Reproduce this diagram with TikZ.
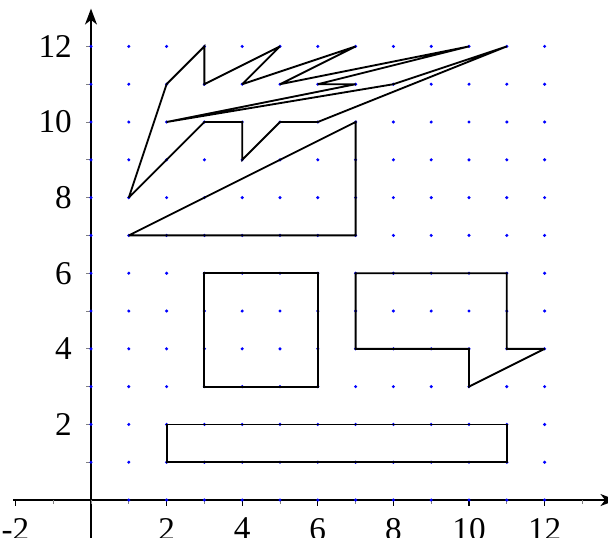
\documentclass[tikz,border=0pt]{standalone}
\usepackage{fontspec}
\setmainfont{Liberation Serif}
\usetikzlibrary{arrows.meta}
\begin{document}
\begin{tikzpicture}[x=1cm,y=1cm,
  figline/.style={line width=1.4pt, line join=miter, miter limit=3},
  axisline/.style={line width=1.3pt, -{Stealth[length=12pt,width=9pt,inset=3.5pt]}},
  gridpt/.style={fill=blue},
  minortick/.style={gray, line width=0.6pt},
  majortick/.style={black, line width=0.8pt},
  lbl/.style={font=\fontsize{25}{29}\selectfont, inner sep=0pt}]
\useasboundingbox (-2.407,-1.085) rectangle (13.677,13.228);
\clip (-2.407,-0.98) rectangle (13.677,13.228);
% axes
\coordinate (xs) at (-2.06,0);
\coordinate (xe) at (13.9,0);
\coordinate (ys) at (0,-1.2);
\coordinate (ye) at (0,13.0);
\draw[axisline] (xs) -- (xe);
\draw[axisline] (ys) -- (ye);
% ticks
\foreach \i in {-2,...,13} {\draw[minortick] (\i,0) -- (\i,-0.1);}
\foreach \i in {-2,2,4,...,12} {\draw[majortick] (\i,0) -- (\i,-0.15);}
\foreach \j in {1,...,12} {\draw[minortick] (0,\j) -- (-0.12,\j);}
% labels
\foreach \i in {-2,2,4,...,12} {\node[lbl, anchor=north] (xl\i) at (\i,-0.47) {\i};}
\foreach \j in {2,4,...,12} {\node[lbl, anchor=east] (yl\j) at (-0.5,\j) {\j};}
% grid dots
\foreach \x in {1,...,12} {\foreach \y in {0,...,12} {\fill[gridpt] (\x,\y) circle (0.045);}}
\foreach \y in {1,...,12} {\fill[gridpt] (0,\y) circle (0.045);}
% shapes
\draw[figline] (1,8) -- (2,11) -- (3,12) -- (3,11) -- (5,12) -- (4,11) -- (7,12) -- (5,11)
  -- (10,12) -- (6,11) -- (7,11) -- (2,10) -- (8,11) -- (11,12) -- (6,10) -- (5,10)
  -- (4,9) -- (4,10) -- (3,10) -- cycle;
\draw[figline] (1,7) -- (7,10) -- (7,7) -- cycle;
\draw[figline] (3,3) rectangle (6,6);
\draw[figline] (7,6) -- (11,6) -- (11,4) -- (12,4) -- (10,3) -- (10,4) -- (7,4) -- cycle;
\draw[figline] (2,1) rectangle (11,2);
\end{tikzpicture}
\end{document}
